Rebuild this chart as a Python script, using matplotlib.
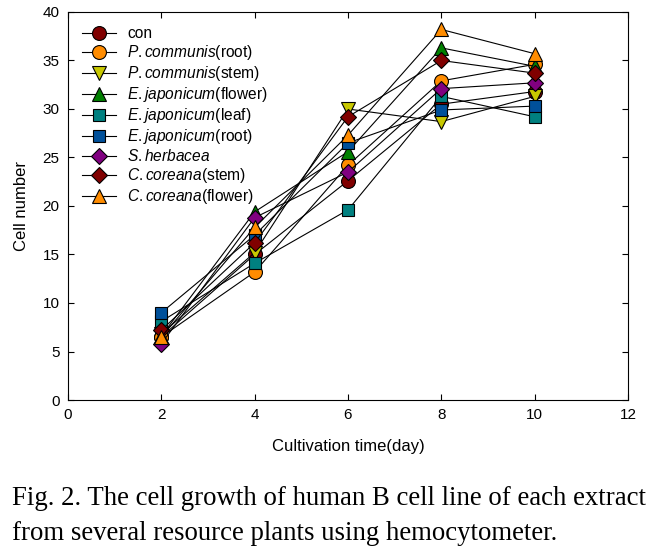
import matplotlib
matplotlib.use("Agg")
import matplotlib.pyplot as plt

plt.rcParams['font.family'] = ['Liberation Sans', 'DejaVu Sans']
plt.rcParams['mathtext.fontset'] = 'custom'
plt.rcParams['mathtext.rm'] = 'Liberation Sans'
plt.rcParams['mathtext.it'] = 'Liberation Sans:italic'

days = [2, 4, 6, 8, 10]
labels = ["con", r"$\it{P.communis}$(root)", r"$\it{P.communis}$(stem)",
          r"$\it{E.japonicum}$(flower)", r"$\it{E.japonicum}$(leaf)",
          r"$\it{E.japonicum}$(root)", r"$\it{S.herbacea}$",
          r"$\it{C.coreana}$(stem)", r"$\it{C.coreana}$(flower)"]
con = [6.5, 15.0, 22.6, 30.5, 31.8]
pc_root = [6.5, 13.2, 24.2, 32.9, 34.6]
pc_stem = [6.8, 15.2, 30.0, 28.7, 31.3]
ej_flower = [6.6, 19.4, 25.6, 36.3, 34.4]
ej_leaf = [8.1, 14.1, 19.6, 31.3, 29.2]
ej_root = [9.0, 17.0, 26.5, 29.9, 30.3]
s_herb = [5.8, 18.8, 23.5, 32.1, 32.7]
cc_stem = [7.2, 16.2, 29.2, 35.0, 33.7]
cc_flower = [6.5, 17.8, 27.3, 38.2, 35.7]
series = [con, pc_root, pc_stem, ej_flower, ej_leaf, ej_root, s_herb, cc_stem, cc_flower]

markers = ['o', 'o', 'v', '^', 's', 's', 'D', 'D', '^']
colors = ['#800000', '#FF8C00', '#C8C800', '#008000', '#008080',
          '#00509A', '#800080', '#800000', '#FF8C00']
sizes = [10, 10, 10, 10, 9, 9, 8, 8, 10]

fig = plt.figure(figsize=(6.59, 5.55), dpi=100)
ax = fig.add_axes([68/659, 1-400/555, 560/659, 388/555])

for vals, lab, m, c, s in zip(series, labels, markers, colors, sizes):
    ax.plot(days, vals, color='black', linewidth=0.8, marker=m, markersize=s,
            markerfacecolor=c, markeredgecolor='black', markeredgewidth=0.8, label=lab)

ax.set_xlim(0, 12)
ax.set_ylim(0, 40)
ax.set_xticks(range(0, 13, 2))
ax.set_yticks(range(0, 41, 5))
ax.tick_params(direction='in', top=True, right=True, labelsize=11, length=4, pad=6)
ax.set_xlabel("Cultivation time(day)", fontsize=12, labelpad=12)
ax.set_ylabel("Cell number", fontsize=12, labelpad=10)
ax.legend(loc='upper left', frameon=False, fontsize=11.2, handlelength=2.2,
          labelspacing=0.13, borderaxespad=0.5, handletextpad=0.7)

fig.text(12/659, 1-505/555, "Fig. 2. The cell growth of human B cell line of each extract",
         fontsize=19.3, family='Liberation Serif', ha='left', va='baseline')
fig.text(12/659, 1-540/555, "from several resource plants using hemocytometer.",
         fontsize=19.3, family='Liberation Serif', ha='left', va='baseline')

fig.savefig("out.png", dpi=100)
